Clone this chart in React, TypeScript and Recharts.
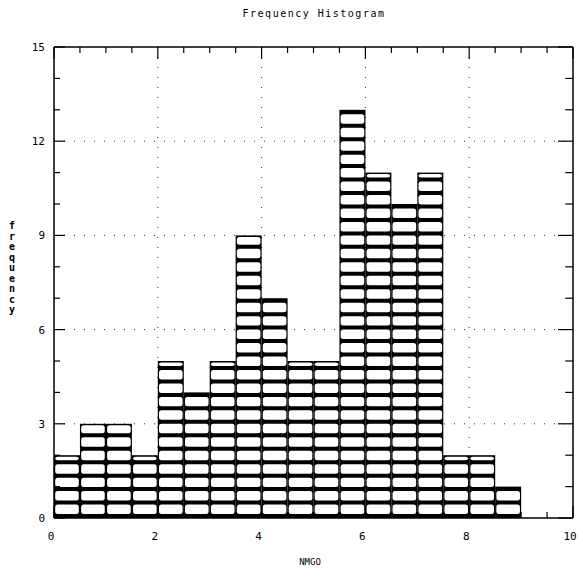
import { Bar, CartesianGrid, ComposedChart, ReferenceLine, XAxis, YAxis } from 'recharts'

// histogram bins (left edge of each 0.5-wide bin) and their counts
const binStarts = [0, 0.5, 1, 1.5, 2, 2.5, 3, 3.5, 4, 4.5, 5, 5.5, 6, 6.5, 7, 7.5, 8, 8.5, 9, 9.5]
const counts = [2, 3, 3, 2, 5, 4, 5, 9, 7, 5, 5, 13, 11, 10, 11, 2, 2, 1, 0, 0]
const binWidth = 0.5

const xTicks = [0, 0.5, 1, 1.5, 2, 2.5, 3, 3.5, 4, 4.5, 5, 5.5, 6, 6.5, 7, 7.5, 8, 8.5, 9, 9.5, 10]
const xMajor = [0, 2, 4, 6, 8, 10]
const yTicks = [0, 1, 2, 3, 4, 5, 6, 7, 8, 9, 10, 11, 12, 13, 14, 15]
const yMajor = [0, 3, 6, 9, 12, 15]
const xGrid = [2, 4, 6, 8]
const yGrid = [3, 6, 9, 12]
const xMax = 10
const yMax = 15

const title = 'Frequency Histogram'
const xTitle = 'NMGO'
const yTitle = 'frequency'

const data = binStarts.map((start, i) => ({ mid: start + binWidth / 2, count: counts[i] }))

const FONT = '"DejaVu Sans Mono", monospace'

// bar body: black with rows of white rounded cells, 7 rows per 3 units
function StripedBar(props: any) {
  const { x, y, width, height, payload } = props
  if (!payload || !payload.count || height <= 0) return null
  const perUnit = height / payload.count
  const period = (perUnit * 3) / 7
  const band = 4
  const bottom = y + height
  const cells = []
  for (let k = 0; bottom - k * period - band > y + 1.5; k++) {
    const cellBottom = bottom - k * period - band
    const cellTop = Math.max(cellBottom - (period - band), y + 1.5)
    cells.push(
      <rect
        key={k}
        x={x + 1.2}
        y={cellTop}
        width={width - 2.4}
        height={cellBottom - cellTop}
        rx={2.5}
        fill="#fff"
      />
    )
  }
  return (
    <g>
      <rect x={x} y={y} width={width} height={height} fill="#000" />
      {cells}
    </g>
  )
}

function XTick(props: any) {
  const { x, y, payload } = props
  const major = xMajor.includes(payload.value)
  return (
    <g>
      <line x1={x} x2={x} y1={y} y2={y - (major ? 12 : 6)} stroke="#000" strokeWidth={1.2} />
      {major && (
        <text x={x - 3} y={y + 22} textAnchor="middle" fontFamily={FONT} fontSize={11} fill="#000">
          {payload.value}
        </text>
      )}
    </g>
  )
}

function YTick(props: any) {
  const { x, y, payload } = props
  const major = yMajor.includes(payload.value)
  return (
    <g>
      <line x1={x} x2={x + (major ? 11 : 6)} y1={y} y2={y} stroke="#000" strokeWidth={1.2} />
      {major && (
        <text x={x - 9} y={y + 4} textAnchor="end" fontFamily={FONT} fontSize={11} fill="#000">
          {payload.value}
        </text>
      )}
    </g>
  )
}

const axisLine = { stroke: '#000', strokeWidth: 1.5 }

export default function App() {
  return (
    <div style={{ position: 'absolute', left: 0, top: 0, width: 583, height: 580, background: '#fff' }}>
      <div
        style={{
          position: 'absolute',
          top: 8,
          left: 0,
          width: 628,
          textAlign: 'center',
          fontFamily: FONT,
          fontSize: 10,
          letterSpacing: 1.5,
          color: '#000',
        }}
      >
        {title}
      </div>
      <div
        style={{
          position: 'absolute',
          top: 557,
          left: 0,
          width: 620,
          textAlign: 'center',
          fontFamily: FONT,
          fontSize: 9,
          color: '#000',
        }}
      >
        {xTitle}
      </div>
      <div
        style={{
          position: 'absolute',
          top: 221,
          left: 7,
          width: 10,
          fontFamily: FONT,
          fontSize: 10,
          fontWeight: 'bold',
          lineHeight: '10.5px',
          color: '#000',
          textAlign: 'center',
        }}
      >
        {yTitle.split('').map((ch, i) => (
          <div key={i}>{ch}</div>
        ))}
      </div>
      <ComposedChart
        width={583}
        height={580}
        data={data}
        margin={{ top: 47, right: 10, left: 34, bottom: 42 }}
        barCategoryGap={0}
        barGap={0}
      >
        <CartesianGrid
          xAxisId="num"
          yAxisId="left"
          verticalValues={xGrid}
          horizontalValues={yGrid}
          stroke="#333"
          strokeDasharray="1 9"
        />
        <XAxis
          xAxisId="num"
          dataKey="mid"
          type="number"
          domain={[0, xMax]}
          allowDataOverflow
          ticks={xTicks}
          interval={0}
          height={20}
          tickSize={0}
          tickMargin={0}
          tickLine={false}
          axisLine={axisLine}
          tick={<XTick />}
        />
        <YAxis
          yAxisId="left"
          type="number"
          domain={[0, yMax]}
          allowDataOverflow
          ticks={yTicks}
          interval={0}
          width={20}
          tickSize={0}
          tickMargin={0}
          tickLine={false}
          axisLine={axisLine}
          tick={<YTick />}
        />
        <Bar
          xAxisId="num"
          yAxisId="left"
          dataKey="count"
          shape={<StripedBar />}
          isAnimationActive={false}
        />
        {/* frame: top and right edges */}
        <ReferenceLine
          xAxisId="num"
          yAxisId="left"
          ifOverflow="visible"
          segment={[{ x: 0, y: yMax }, { x: xMax, y: yMax }]}
          stroke="#000"
          strokeWidth={1.5}
        />
        <ReferenceLine
          xAxisId="num"
          yAxisId="left"
          ifOverflow="visible"
          segment={[{ x: xMax, y: 0 }, { x: xMax, y: yMax }]}
          stroke="#000"
          strokeWidth={1.5}
        />
        {/* mirrored ticks along the top edge */}
        {xTicks.map((v) => (
          <ReferenceLine
            key={'t' + v}
            xAxisId="num"
            yAxisId="left"
            ifOverflow="visible"
            segment={[{ x: v, y: yMax }, { x: v, y: yMax - (xMajor.includes(v) ? 0.38 : 0.19) }]}
            stroke="#000"
            strokeWidth={1.2}
          />
        ))}
        {/* mirrored ticks along the right edge */}
        {yTicks.map((v) => (
          <ReferenceLine
            key={'r' + v}
            xAxisId="num"
            yAxisId="left"
            ifOverflow="visible"
            segment={[{ x: xMax, y: v }, { x: xMax - (yMajor.includes(v) ? 0.29 : 0.15), y: v }]}
            stroke="#000"
            strokeWidth={1.2}
          />
        ))}
      </ComposedChart>
    </div>
  )
}
